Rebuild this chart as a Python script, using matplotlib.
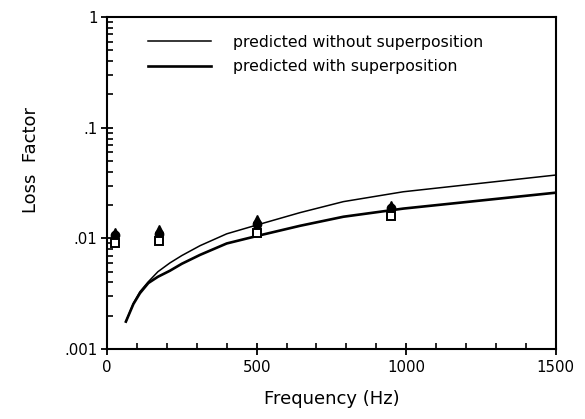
import matplotlib
matplotlib.use("Agg")
import matplotlib.pyplot as plt
from matplotlib.ticker import FixedLocator, LogLocator, NullFormatter

plt.rcParams['font.family'] = ['DejaVu Sans']

# predicted curves
freq_pred = [63, 88, 110, 138, 170, 210, 250, 311, 400, 500, 645, 790, 990, 1500]
loss_without = [0.00177, 0.00259, 0.0033, 0.00406, 0.0050, 0.0060, 0.0070,
                0.0086, 0.0110, 0.0132, 0.0171, 0.0215, 0.0264, 0.0374]
loss_with = [0.00177, 0.00255, 0.0032, 0.00395, 0.0045, 0.0051, 0.0059,
             0.0071, 0.0090, 0.0105, 0.0130, 0.0157, 0.0186, 0.0259]

# measured loss factors at the test frequencies
freq_meas = [25, 175, 500, 950]
meas_a = [0.0115, 0.0122, 0.0150, 0.0200]   # filled triangles
meas_b = [0.0108, 0.0110, 0.0135, 0.0188]   # filled circles
meas_c = [0.0100, 0.0100, 0.0121, 0.0176]   # filled squares
meas_d = [0.0090, 0.0094, 0.0112, 0.0160]   # open squares

x_ticks = [0, 500, 1000, 1500]
y_ticks = [0.001, 0.01, 0.1, 1]
y_labels = ['.001', '.01', '.1', '1']

fig = plt.figure(figsize=(5.85, 4.19), dpi=100)
ax = fig.add_axes([0.183, 0.167, 0.767, 0.792])

ax.plot(freq_pred, loss_without, color='black', lw=1.1,
        label='predicted without superposition')
ax.plot(freq_pred, loss_with, color='black', lw=1.9,
        label='predicted with superposition')

ax.plot(freq_meas, meas_a, '^', color='black', ms=6, ls='none')
ax.plot(freq_meas, meas_b, 'o', color='black', ms=6, ls='none')
ax.plot(freq_meas, meas_c, 's', color='black', ms=5, ls='none')
ax.plot(freq_meas, meas_d, 's', mfc='white', mec='black', mew=1.4, ms=5.5, ls='none')

ax.set_yscale('log')
ax.set_xlim(0, 1500)
ax.set_ylim(0.001, 1)

ax.xaxis.set_major_locator(FixedLocator(x_ticks))
ax.xaxis.set_minor_locator(FixedLocator(range(0, 1501, 100)))
ax.set_yticks(y_ticks)
ax.set_yticklabels(y_labels)
ax.yaxis.set_minor_locator(LogLocator(base=10, subs=range(2, 10)))
ax.yaxis.set_minor_formatter(NullFormatter())

ax.tick_params(which='major', direction='inout', length=8, width=1.3,
               labelsize=10.8)
ax.tick_params(which='minor', direction='in', length=4, width=1.2)
ax.tick_params(axis='x', which='major', pad=4)
ax.tick_params(axis='y', which='major', pad=3)

for sp in ax.spines.values():
    sp.set_linewidth(1.5)

ax.set_xlabel('Frequency (Hz)', fontsize=13, labelpad=11)
ax.set_ylabel('Loss  Factor', fontsize=13)
ax.yaxis.set_label_coords(-0.15, 0.57)

leg = ax.legend(loc='upper left', bbox_to_anchor=(0.06, 0.99), frameon=False,
                fontsize=11.3, handlelength=4.0, handletextpad=1.4,
                labelspacing=0.6)

fig.savefig('out.png', dpi=100)
